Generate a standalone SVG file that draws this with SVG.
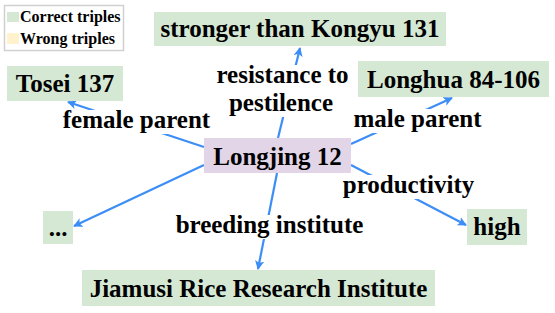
<svg xmlns="http://www.w3.org/2000/svg" width="555" height="313" viewBox="0 0 555 313">
<style>
.t{font-family:"Liberation Serif","Times New Roman",serif;font-weight:bold;font-size:25px;fill:#000;text-anchor:middle}
.lg{font-family:"Liberation Serif","Times New Roman",serif;font-weight:bold;font-size:16px;fill:#000}
.g{fill:#d5e8d4}
.p{fill:#e1d5e7}
.e{stroke:#3c8ef6;stroke-width:2.2;fill:none;marker-end:url(#ah)}
.bg{fill:#fff}
</style>
<defs>
<marker id="ah" viewBox="0 0 10 10" refX="9" refY="5" markerWidth="4.2" markerHeight="4.2" orient="auto" markerUnits="strokeWidth">
<path d="M0,0 L10,5 L0,10 L2.5,5 Z" fill="#3c8ef6"/>
</marker>
</defs>
<rect width="555" height="313" fill="#fff"/>
<g id="legend">
<rect x="4.5" y="5.5" width="119" height="45" fill="#fff" stroke="#d0d0d0" stroke-width="1.5"/>
<rect x="7" y="12" width="12" height="10" fill="#d5e8d4"/>
<text class="lg" x="20" y="22">Correct triples</text>
<rect x="7" y="33" width="12" height="11" fill="#fff2cc"/>
<text class="lg" x="20" y="44">Wrong triples</text>
</g>
<g id="connectors">
<line class="e" x1="204" y1="147" x2="68" y2="102"/>
<line class="e" x1="278" y1="138" x2="300" y2="48"/>
<line class="e" x1="351" y1="144" x2="452" y2="98"/>
<line class="e" x1="351" y1="165" x2="466" y2="225"/>
<line class="e" x1="204" y1="165" x2="74" y2="226"/>
<line class="e" x1="277" y1="173" x2="258" y2="269"/>
<rect class="bg" x="58" y="110" width="157" height="24"/>
<text class="t" x="136.5" y="128">female parent</text>
<rect class="bg" x="213" y="65" width="138" height="52"/>
<text class="t" x="282.5" y="83">resistance to</text>
<text class="t" x="281" y="111">pestilence</text>
<rect class="bg" x="351" y="109" width="133" height="24"/>
<text class="t" x="417.5" y="127">male parent</text>
<rect class="bg" x="341" y="175" width="135" height="24"/>
<text class="t" x="408.5" y="193">productivity</text>
<rect class="bg" x="174" y="215" width="191" height="24"/>
<text class="t" x="269.5" y="233">breeding institute</text>
</g>
<g id="n-stronger">
<rect class="g" x="154" y="12" width="292" height="34"/>
<text class="t" x="300" y="37">stronger than Kongyu 131</text>
</g>
<g id="n-tosei">
<rect class="g" x="7" y="66" width="116" height="35"/>
<text class="t" x="65" y="92">Tosei 137</text>
</g>
<g id="n-longhua">
<rect class="g" x="358" y="61" width="191" height="36"/>
<text class="t" x="453.5" y="88">Longhua 84-106</text>
</g>
<g id="n-longjing">
<rect class="p" x="204" y="138" width="147" height="35"/>
<text class="t" x="277.5" y="165">Longjing 12</text>
</g>
<g id="n-etc">
<rect class="g" x="43" y="211" width="30" height="33"/>
<text class="t" x="58" y="236">...</text>
</g>
<g id="n-high">
<rect class="g" x="467" y="209" width="60" height="36"/>
<text class="t" x="497" y="235">high</text>
</g>
<g id="n-jiamusi">
<rect class="g" x="82" y="270" width="353" height="36"/>
<text class="t" x="258.5" y="297">Jiamusi Rice Research Institute</text>
</g>
</svg>
